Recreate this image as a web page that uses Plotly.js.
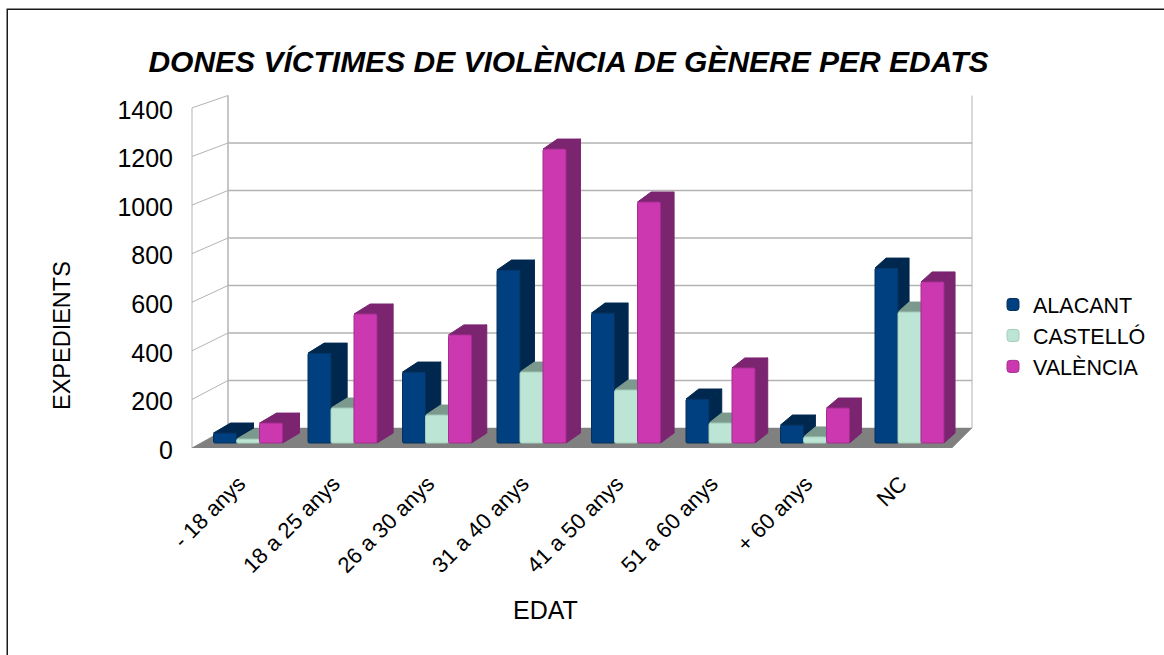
<!DOCTYPE html>
<html>
<head>
<meta charset="utf-8">
<script src="https://cdn.plot.ly/plotly-3.0.1.min.js"></script>
<style>html,body{margin:0;padding:0;background:#fff}#chart{width:1164px;height:655px}</style>
</head>
<body>
<div id="chart"></div>
<script>
const categories = ['- 18 anys','18 a 25 anys','26 a 30 anys','31 a 40 anys','41 a 50 anys','51 a 60 anys','+ 60 anys','NC'];
const alacant  = [41, 370, 292, 712, 535, 181, 74, 720];
const castello = [16, 144, 115, 292, 218, 82, 25, 539];
const valencia = [82, 531, 445, 1210, 992, 309, 144, 663];
const yTicks = [0, 200, 400, 600, 800, 1000, 1200, 1400];
const seriesNames = ['ALACANT','CASTELLÓ','VALÈNCIA'];
const frontColors = ['#004080','#bde5d5','#cc38b0'];
const edgeColors  = ['#06305a','#a3cdbb','#a52e90'];
const depthColors = ['#00284f','#7b998d','#7b2470'];
const seriesValues = [alacant, castello, valencia];

// projection of the pseudo-3D box, in axis units
const W = 1164, H = 655;
const pxY = 352 / 1449;            // pixels per value unit on the front plane
const pxX = 94.5;                  // pixels per category
const xAt = px => (px - 248) / pxX;
const yAt = py => (448 - py) / pxY;
const backY = v => yAt(428 - v * 0.2375);
const baseLift = yAt(443);         // bars stand inside the floor
const rise = 10 / pxY;             // vertical depth of a bar
const depthX = i => (17 - 0.85 * i) / pxX;
const barW = 0.2433;

const shapes = [];
const poly = (pts, fill, line, lw) => shapes.push({
  type: 'path', xref: 'x', yref: 'y', layer: 'below',
  path: 'M' + pts.map(p => p[0] + ',' + p[1]).join('L') + 'Z',
  fillcolor: fill, line: {color: line, width: lw}
});
const seg = (x0, y0, x1, y1, w) => shapes.push({
  type: 'line', xref: 'x', yref: 'y', layer: 'below',
  x0, y0, x1, y1, line: {color: '#b3b3b3', width: w}
});

// walls and grid
const xFL = xAt(192), xBL = xAt(228), xBR = xAt(972), xFR = xAt(952);
seg(xFL, 0, xFL, 1400, 1);
seg(xBL, backY(0), xBL, backY(1400), 1.5);
seg(xBR, backY(0), xBR, backY(1400), 1);
yTicks.forEach(v => {
  seg(xFL, v, xBL, backY(v), 1);
  if (v > 0 && v < 1400) seg(xBL, backY(v), xBR, backY(v), 1.5);
});
// floor
poly([[xFL,0],[xBL,backY(0)],[xBR,backY(0)],[xFR,0]], '#808080', '#808080', 0.5);
// depth faces of each bar: side and top, series by series
seriesValues.forEach((vals, s) => {
  vals.forEach((v, i) => {
    const xl = i + (s - 1.5) * barW, xr = xl + barW, d = depthX(i);
    const top = v + baseLift;
    poly([[xr,baseLift],[xr+d,baseLift+rise],[xr+d,top+rise],[xr,top]], depthColors[s], depthColors[s], 1);
    poly([[xl,top],[xl+d,top+rise],[xr+d,top+rise],[xr,top]], depthColors[s], depthColors[s], 1);
  });
});
// outer frame
const pl = 186, pr = 980, pt = 90, pb = 448;
const paperX = px => (px - pl) / (pr - pl);
const paperY = py => (pb - py) / (pb - pt);
shapes.push({type:'rect', xref:'paper', yref:'paper', layer:'below',
  x0: paperX(7.25), x1: paperX(1170), y0: paperY(662), y1: paperY(9.25),
  line:{color:'#1a1a1a', width:1.5}, fillcolor:'rgba(0,0,0,0)'});

const idx = categories.map((_, i) => i);
const traces = seriesValues.map((vals, s) => ({
  type: 'bar', name: seriesNames[s], x: idx, y: vals,
  base: vals.map(() => baseLift),
  marker: {color: frontColors[s], line: {color: edgeColors[s], width: 1}, cornerradius: 1.5},
  hoverinfo: 'x+y'
}));
const font = 'Liberation Sans, Arial, sans-serif';
const layout = {
  width: W, height: H, autosize: false,
  paper_bgcolor: '#ffffff', plot_bgcolor: 'rgba(0,0,0,0)',
  margin: {l: pl, r: W - pr, t: pt, b: H - pb, autoexpand: false},
  barmode: 'group', bargap: 0.27, bargroupgap: 0,
  font: {family: font, color: '#000000'},
  title: {text: 'DONES VÍCTIMES DE VIOLÈNCIA DE GÈNERE PER EDATS',
    font: {family: font, size: 30, weight: 'bold', style: 'italic', color: '#000000'},
    xref: 'container', yref: 'container', x: 568.5 / W, xanchor: 'center', y: 1 - 61 / H, yanchor: 'middle'},
  xaxis: {type: 'linear', range: [xAt(pl), xAt(pr)], tickmode: 'array', tickvals: idx, ticktext: categories,
    tickangle: -45, tickfont: {size: 22, family: font}, showgrid: false, zeroline: false, showline: false,
    ticks: 'outside', ticklen: 13, tickcolor: 'rgba(0,0,0,0)', ticklabelshift: -9},
  yaxis: {range: [0, yAt(pt)], tickmode: 'array', tickvals: yTicks, ticktext: yTicks.map(String),
    tickfont: {size: 25, family: font}, showgrid: false, zeroline: false, showline: false,
    ticks: 'outside', ticklen: 7, tickcolor: 'rgba(0,0,0,0)', ticklabelshift: 2},
  legend: {xref: 'container', yref: 'container', x: 993 / W, y: 1 - 284 / H, xanchor: 'left', yanchor: 'top',
    font: {size: 21.5, family: font}, bgcolor: 'rgba(0,0,0,0)', borderwidth: 0},
  annotations: [
    {text: 'EDAT', xref: 'paper', yref: 'paper', x: paperX(545), y: paperY(610), showarrow: false,
      xanchor: 'center', yanchor: 'middle', font: {size: 25, family: font}},
    {text: 'EXPEDIENTS', xref: 'paper', yref: 'paper', x: paperX(62), y: paperY(336), showarrow: false,
      textangle: -90, xanchor: 'center', yanchor: 'middle', font: {size: 23.5, family: font}}
  ],
  shapes: shapes
};
Plotly.newPlot('chart', traces, layout, {displayModeBar: false, responsive: false});
</script>
</body>
</html>
